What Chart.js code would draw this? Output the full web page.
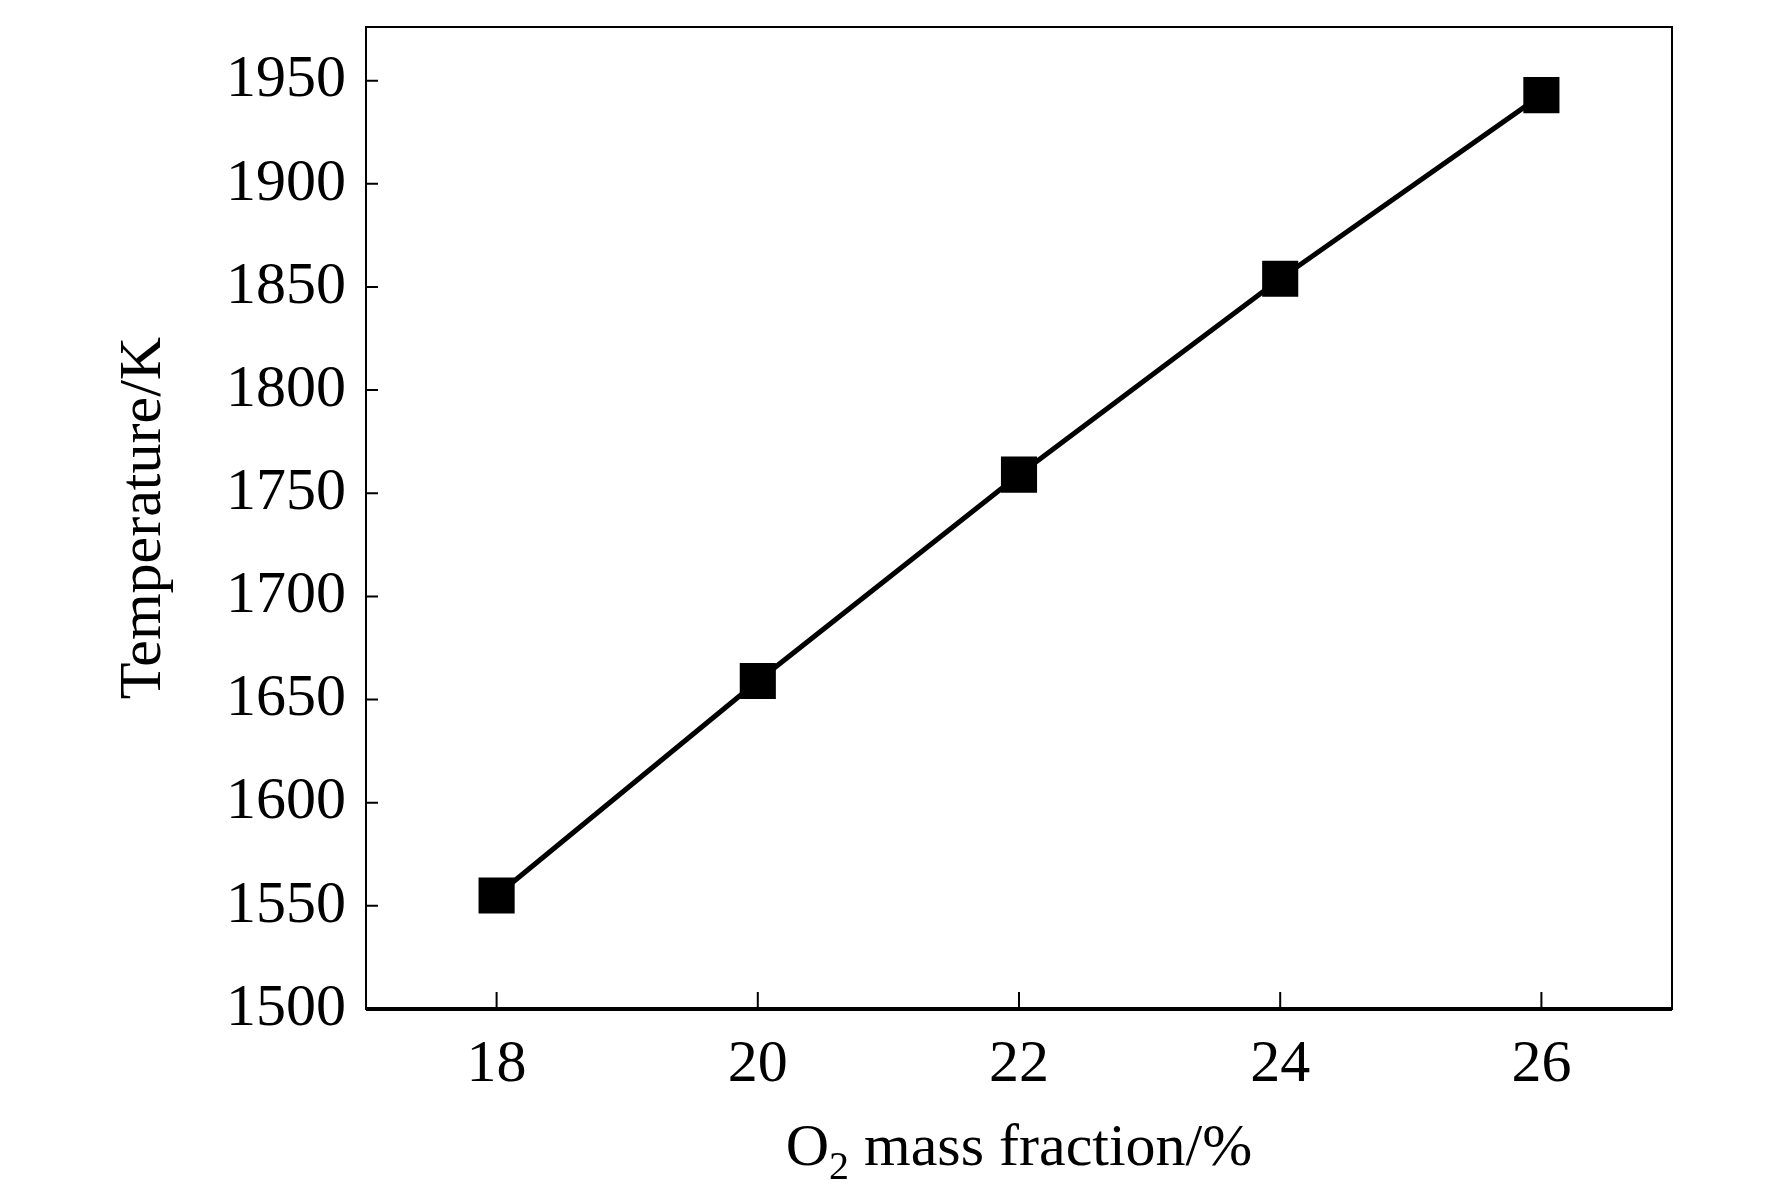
<!DOCTYPE html>
<html><head><meta charset="utf-8">
<script src="https://cdn.jsdelivr.net/npm/chart.js@4"></script>
<style>html,body{margin:0;background:#fff}#wrap{width:1772px;height:1193px}</style>
</head><body><div id="wrap"><canvas id="c"></canvas></div>
<script>
const o2Fraction = [18, 20, 22, 24, 26];
const temperature = [1555, 1659, 1759, 1854, 1943];
const xTicks = [18, 20, 22, 24, 26];
const yTicks = [1500, 1550, 1600, 1650, 1700, 1750, 1800, 1850, 1900, 1950];

const font = 'Liberation Serif, Times New Roman, serif';

// axes box, inward ticks and axis titles
const decor = {
    id: 'decor',
    afterDraw(chart) {
        const { ctx, chartArea: a, scales: { x, y } } = chart;
        ctx.save();
        ctx.strokeStyle = '#000';
        ctx.lineWidth = 2;
        ctx.strokeRect(a.left, a.top, a.right - a.left, a.bottom - a.top);
        ctx.lineWidth = 4;
        ctx.beginPath();
        ctx.moveTo(a.left, a.bottom); ctx.lineTo(a.right, a.bottom);
        ctx.stroke();
        ctx.lineWidth = 2;
        ctx.beginPath();
        xTicks.forEach(v => { const px = x.getPixelForValue(v); ctx.moveTo(px, a.bottom); ctx.lineTo(px, a.bottom - 17); });
        yTicks.forEach(v => { const py = y.getPixelForValue(v); ctx.moveTo(a.left, py); ctx.lineTo(a.left + 12, py); });
        ctx.stroke();

        ctx.fillStyle = '#000';
        ctx.textBaseline = 'alphabetic';
        // x title with subscript
        const parts = [['O', 0, 60], ['2', 14, 40], [' mass fraction/%', 0, 60]];
        let w = 0;
        parts.forEach(p => { ctx.font = `${p[2]}px ${font}`; w += ctx.measureText(p[0]).width; });
        let cx = (a.left + a.right) / 2 - w / 2;
        parts.forEach(p => {
            ctx.font = `${p[2]}px ${font}`;
            ctx.fillText(p[0], cx, 1165 + p[1]);
            cx += ctx.measureText(p[0]).width;
        });
        // y title
        ctx.font = `60px ${font}`;
        ctx.translate(160, (a.top + a.bottom) / 2);
        ctx.rotate(-Math.PI / 2);
        ctx.textAlign = 'center';
        ctx.fillText('Temperature/K', 0, 0);
        ctx.restore();
    }
};

new Chart(document.getElementById('c'), {
    type: 'line',
    data: {
        datasets: [{
            data: o2Fraction.map((v, i) => ({ x: v, y: temperature[i] })),
            borderColor: '#000',
            borderWidth: 5,
            backgroundColor: '#000',
            pointStyle: 'rect',
            pointRadius: 22,
            tension: 0
        }]
    },
    options: {
        responsive: true,
        maintainAspectRatio: false,
        animation: false,
        layout: { padding: { top: 1, right: 100, left: 0, bottom: 0 } },
        plugins: { legend: { display: false }, tooltip: { enabled: false } },
        scales: {
            x: {
                type: 'linear', min: 17, max: 27,
                afterBuildTicks: s => { s.ticks = xTicks.map(v => ({ value: v })); },
                afterFit: s => { s.height = 184; s.paddingLeft = 0; s.paddingRight = 0; },
                grid: { display: false, drawTicks: false },
                border: { display: false },
                ticks: { color: '#000', font: { family: font, size: 60 }, padding: 20, callback: v => String(v) }
            },
            y: {
                min: 1500, max: 1976,
                afterBuildTicks: s => { s.ticks = yTicks.map(v => ({ value: v })); },
                afterFit: s => { s.width = 366; s.paddingTop = 0; s.paddingBottom = 0; },
                grid: { display: false, drawTicks: false },
                border: { display: false },
                ticks: { color: '#000', font: { family: font, size: 60 }, padding: 20, callback: v => String(v) }
            }
        }
    },
    plugins: [decor]
});
</script></body></html>
